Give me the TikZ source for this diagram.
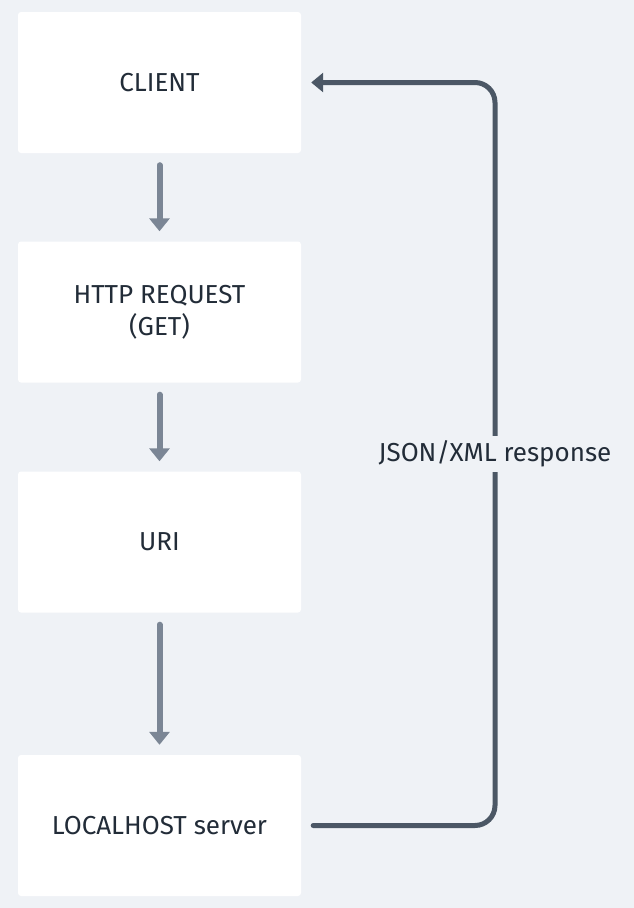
\documentclass[tikz,border=0pt]{standalone}
\usepackage{fontspec}
\setmainfont{Fira Sans}
\usetikzlibrary{arrows.meta}
\definecolor{bgcol}{HTML}{EFF2F6}
\definecolor{txtcol}{HTML}{222C38}
\definecolor{flowcol}{HTML}{7B8695}
\definecolor{backcol}{HTML}{4B5765}

\begin{document}
\begin{tikzpicture}[x=1pt,y=-1pt,
        box/.style={fill=white, rounded corners=3pt, minimum width=283pt,
            minimum height=141pt, align=center, text=txtcol,
            font=\fontsize{26}{32}\selectfont},
        flow/.style={draw=flowcol, line width=6pt, line cap=round,
            -{Triangle[width=20pt,length=13pt]}, shorten <=12pt, shorten >=10pt},
        back/.style={draw=backcol, line width=5pt, line cap=round, rounded corners=20pt,
            -{Triangle[width=19pt,length=12pt]}, shorten <=12pt, shorten >=10pt}]
            \fill[bgcol] (0,0) rectangle (634,908);
            % 四个方框,从上到下
            \node[box] (client) at (159.5,82.5) {CLIENT};
            \node[box] (request) at (159.5,312) {HTTP REQUEST\\(GET)};
            \node[box] (uri) at (159.5,542) {URI};
            \node[box] (server) at (159.5,825.5) {LOCALHOST server};
            % 向下的箭头
            \draw[flow] (client) -- (request);
            \draw[flow] (request) -- (uri);
            \draw[flow] (uri) -- (server);
            % 返回的路径
            \coordinate (turn-low) at (495,825.5);
            \coordinate (turn-high) at (495,82.5);
            \draw[back] (server.east) -- (turn-low) -- (turn-high) -- (client.east);
            \node[fill=bgcol, text=txtcol, inner xsep=2pt, inner ysep=5pt,
                font=\fontsize{26}{30}\selectfont] (response) at (495,454) {JSON/XML response};
        \end{tikzpicture}
\end{document}
